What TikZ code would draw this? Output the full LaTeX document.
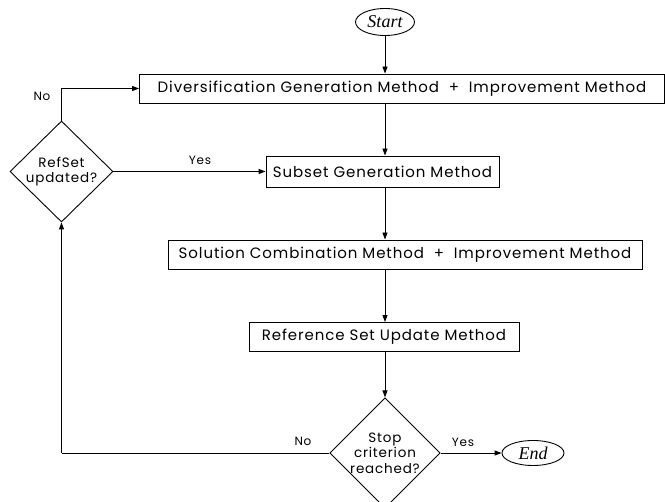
\documentclass[tikz,border=0pt]{standalone}
\usepackage{fontspec}
\setmainfont{Poppins}[LetterSpace=6]
\newfontfamily\termfont{Liberation Serif}
\usetikzlibrary{shapes.geometric,arrows.meta}
\tikzset{
  procbox/.style={draw,line width=0.9pt,rectangle,inner sep=0pt,font=\fontsize{15}{17}\selectfont},
  term/.style={draw,line width=0.9pt,ellipse,inner sep=0pt,font=\termfont\itshape\fontsize{18}{19}\selectfont},
  decision/.style={draw,line width=0.9pt,diamond,inner sep=0pt,align=center,font=\fontsize{13.5}{15.5}\selectfont},
  flow/.style={line width=0.9pt,-{Triangle[length=7pt,width=5pt]}},
  plain/.style={line width=0.9pt},
  lbl/.style={font=\fontsize{12}{13}\selectfont,inner sep=0pt}
}
\begin{document}
\begin{tikzpicture}[x=1pt,y=-1pt]
\useasboundingbox (0,0) rectangle (665,502);
\node[term,minimum width=59pt,minimum height=27pt] (start) at (385,22) {Start};
\node[procbox,minimum width=525pt,minimum height=29pt] (b1) at (402,88.5) {Diversification Generation Method\ \ +\ \ Improvement Method};
\node[procbox,minimum width=233pt,minimum height=31pt] (b2) at (382.5,171.5) {Subset Generation Method};
\node[procbox,minimum width=474pt,minimum height=29pt] (b3) at (405,254.5) {Solution Combination Method\ \ +\ \ Improvement Method};
\node[procbox,minimum width=270pt,minimum height=29pt] (b4) at (384,337) {Reference Set Update Method};
\node[decision,minimum width=110pt,minimum height=108pt] (stop) at (385,453) {Stop\\criterion\\reached?};
\node[term,minimum width=62pt,minimum height=25pt] (end) at (533,453) {End};
\node[decision,minimum width=103pt,minimum height=101pt] (ref) at (61.5,171.5) {RefSet\\updated?};
\coordinate (c1) at (ref.north |- b1.west);
\coordinate (c2) at (ref.south |- stop.west);
\draw[flow] (start.south) -- (start.south |- b1.north);
\draw[flow] (start.south |- b1.south) -- (start.south |- b2.north);
\draw[flow] (start.south |- b2.south) -- (start.south |- b3.north);
\draw[flow] (start.south |- b3.south) -- (start.south |- b4.north);
\draw[flow] (start.south |- b4.south) -- (stop.north);
\draw[flow] (stop.east) -- (end.west);
\draw[plain] (stop.west) -- (c2);
\draw[flow] (c2) -- (ref.south);
\draw[plain] (ref.north) -- (c1);
\draw[flow] (c1) -- (b1.west);
\draw[flow] (ref.east) -- (b2.west);
\node[lbl] at (42,96) {No};
\node[lbl] at (200,160) {Yes};
\node[lbl] at (303,441) {No};
\node[lbl] at (463,442) {Yes};
\end{tikzpicture}
\end{document}
